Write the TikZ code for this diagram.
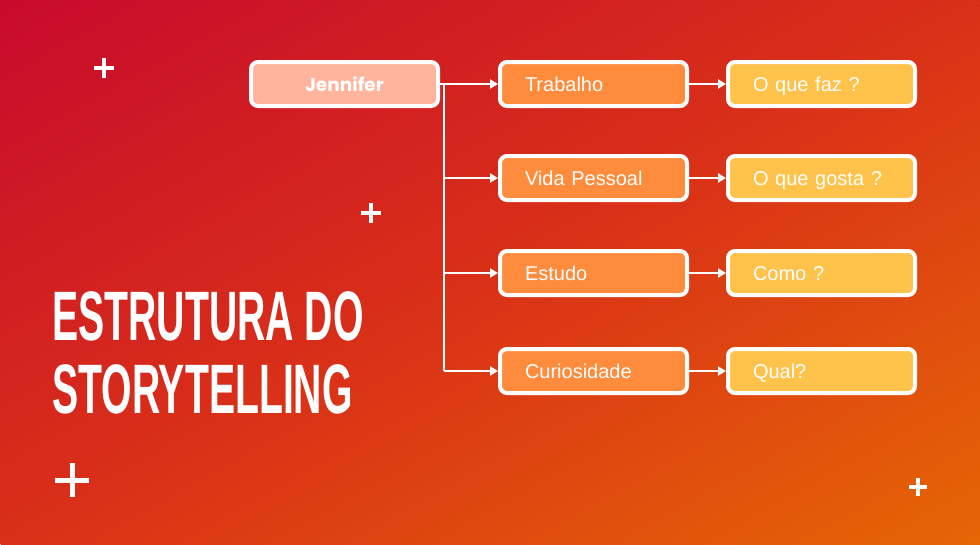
\documentclass[tikz,border=0pt]{standalone}
\usepackage{fontspec}
\setmainfont{Liberation Sans}
\newfontfamily\namefont{Poppins}
\newfontfamily\titlefont[FakeStretch=0.56]{Liberation Sans}
\usetikzlibrary{calc}
\usetikzlibrary{positioning,arrows.meta}
\definecolor{bgred}{RGB}{200,10,45}
\definecolor{bgmid}{RGB}{217,48,24}
\definecolor{bgorange}{RGB}{230,102,5}
\definecolor{namepink}{RGB}{255,180,158}
\definecolor{topicorange}{RGB}{255,140,60}
\definecolor{detailyellow}{RGB}{255,194,74}
\tikzset{
  basebox/.style={draw=white, line width=4pt, rounded corners=7pt, minimum height=44pt, text=white},
  namebox/.style={basebox, fill=namepink, minimum width=187pt, font=\namefont\bfseries\fontsize{18.5}{22}\selectfont},
  topicbox/.style={basebox, fill=topicorange, text width=137pt, inner xsep=25pt, align=left,
    font=\fontsize{20}{24}\selectfont, text height=14.5pt, text depth=0pt},
  detailbox/.style={topicbox, fill=detailyellow},
  link/.style={draw=white, line width=2pt, -{Triangle[length=8pt,width=9pt]}},
}

\begin{document}
\begin{tikzpicture}[x=1pt,y=1pt]
  \useasboundingbox (0,0) rectangle (980,-544);
  % background
  \begin{scope}
    \clip (0,0) rectangle (980,-544);
    \shade[left color=bgred, right color=bgorange, middle color=bgmid,
           transform canvas={rotate around={-61:(490,-272)}}] (14,-832) rectangle (966,288);
  \end{scope}

  \node [namebox] (jen) at (344.5,-84) {Jennifer};

  \node [topicbox, right=58pt of jen] (trab) {Trabalho};
  \node [topicbox, below=46pt of trab] (vida) {Vida Pessoal};
  \node [topicbox, below=47pt of vida] (estu) {Estudo};
  \node [topicbox, below=50pt of estu] (curi) {Curiosidade};

  \node [detailbox, right=37pt of trab] (faz) {O que faz ?};
  \node [detailbox, right=37pt of vida] (gosta) {O que gosta ?};
  \node [detailbox, right=37pt of estu] (como) {Como ?};
  \node [detailbox, right=37pt of curi] (qual) {Qual?};

  \coordinate (fork) at ($(jen.east)+(4pt,0)$);
  \draw [link] (jen) -- (trab);
  \draw [white, line width=2pt] (fork) -- (fork |- curi.west);
  \foreach \t in {vida,estu,curi}
    \draw [link] (fork |- \t.west) -- (\t);

  \draw [link] (trab) -- (faz);
  \draw [link] (vida) -- (gosta);
  \draw [link] (estu) -- (como);
  \draw [link] (curi) -- (qual);

  \node [anchor=base west, align=left, inner sep=0, text=white,
         font=\titlefont\bfseries\fontsize{70}{73}\selectfont] (title) at (52,-413)
    {ESTRUTURA DO\\STORYTELLING};

  % plus signs
  \foreach \px/\py/\arm/\lw in {104/68/10/4, 371/213/10/4, 72/480/17/5, 918/487/9/3.5}
    \draw [white, line width=\lw pt] (\px-\arm,-\py) -- (\px+\arm,-\py) (\px,-\py-\arm) -- (\px,-\py+\arm);
\end{tikzpicture}
\end{document}
